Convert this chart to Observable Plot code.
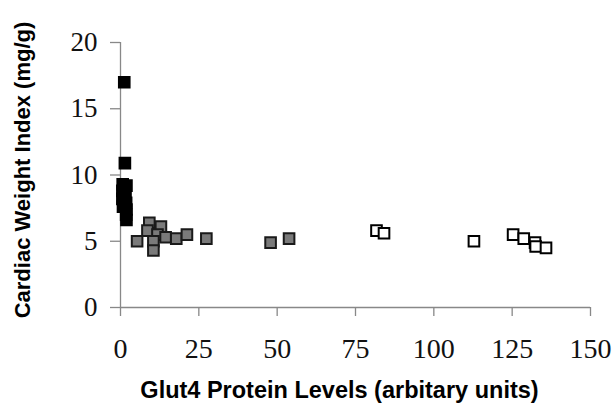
<!DOCTYPE html>
<html><head><meta charset="utf-8">
<script src="https://cdn.jsdelivr.net/npm/d3@7"></script>
<script src="https://cdn.jsdelivr.net/npm/@observablehq/plot@0.6"></script>
<style>body{margin:0;background:#fff}</style>
</head><body><div id="chart"></div>
<script>
const blackX = [1.2, 1.4, 0.7, 1.9, 0.6, 1.6, 0.6, 1.8, 0.8, 1.9, 1.8, 1.9];
const blackY = [17.0, 10.9, 9.3, 9.2, 8.8, 8.5, 8.2, 7.9, 7.6, 7.4, 7.0, 6.6];
const grayX = [5.3, 9.2, 12.9, 8.6, 11.8, 10.5, 10.5, 14.4, 17.8, 21.2, 27.4, 47.9, 53.8];
const grayY = [5.0, 6.4, 6.1, 5.8, 5.5, 5.0, 4.3, 5.3, 5.2, 5.5, 5.2, 4.9, 5.2];
const whiteX = [81.7, 84.1, 112.8, 125.3, 128.7, 132.3, 132.5, 135.8];
const whiteY = [5.8, 5.6, 5.0, 5.5, 5.2, 4.9, 4.6, 4.5];
const xTicks = [0, 25, 50, 75, 100, 125, 150];
const yTicks = [0, 5, 10, 15, 20];
const xTitle = "Glut4 Protein Levels (arbitary units)";
const yTitle = "Cardiac Weight Index (mg/g)";

const groups = [
  {xs: blackX, ys: blackY, fill: "#000", stroke: "#000"},
  {xs: grayX, ys: grayY, fill: "#7a7a7a", stroke: "#1a1a1a"},
  {xs: whiteX, ys: whiteY, fill: "#fff", stroke: "#000"}
];

const chart = Plot.plot({
  width: 613, height: 405,
  marginLeft: 120, marginRight: 23, marginTop: 42, marginBottom: 98,
  x: {domain: [0, 150]},
  y: {domain: [0, 20]},
  style: {fontFamily: "'Liberation Serif', 'Times New Roman', serif", color: "#111", background: "#fff"},
  marks: [
    Plot.ruleY([0], {stroke: "#888", strokeWidth: 1.3}),
    Plot.ruleX([0], {stroke: "#888", strokeWidth: 1.3}),
    Plot.axisX(xTicks, {tickSize: 9, stroke: "#888", strokeWidth: 1.3, tickPadding: 22, fontSize: 28, label: null}),
    Plot.axisY(yTicks, {tickSize: 10, stroke: "#888", strokeWidth: 1.3, tickPadding: 13, fontSize: 27, label: null}),
    ...groups.map(g => Plot.dot(g.xs.map((x, i) => ({x, y: g.ys[i]})), {
      x: "x", y: "y", symbol: "square", r: 6, fill: g.fill, stroke: g.stroke, strokeWidth: 2
    })),
    Plot.text([xTitle], {frameAnchor: "bottom", dx: -16, dy: 90, fontFamily: "'Liberation Sans', Arial, sans-serif", fontWeight: "bold", fontSize: 23.5, fill: "#000"}),
    Plot.text([yTitle], {frameAnchor: "left", textAnchor: "middle", rotate: -90, dx: -98, dy: -5, fontFamily: "'Liberation Sans', Arial, sans-serif", fontWeight: "bold", fontSize: 22, fill: "#000"})
  ]
});
document.getElementById("chart").appendChild(chart);
</script>
</body></html>
